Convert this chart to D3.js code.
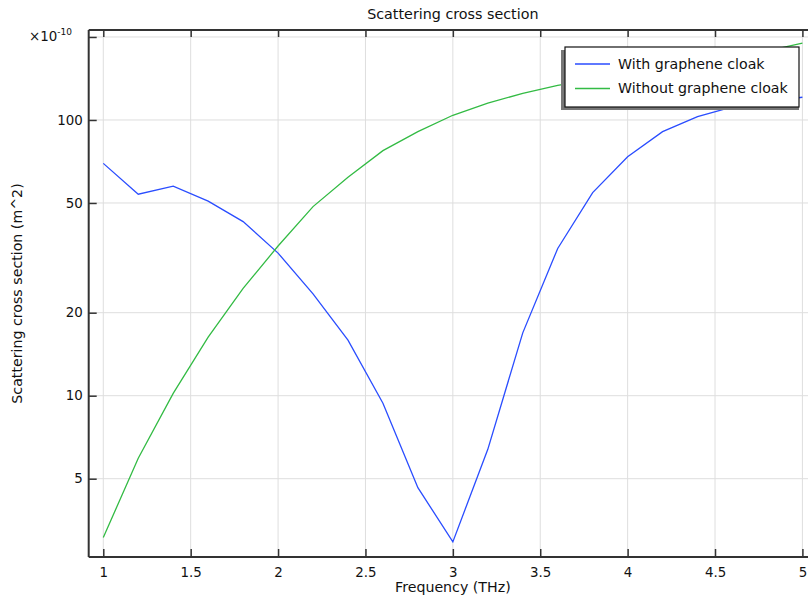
<!DOCTYPE html>
<html>
<head>
<meta charset="utf-8">
<script src="https://cdn.jsdelivr.net/npm/d3@7"></script>
<style>
  html, body { margin: 0; padding: 0; background: #fff; }
  svg { display: block; font-family: "DejaVu Sans", sans-serif; }
</style>
</head>
<body>
<svg id="chart" width="808" height="598"></svg>
<script>
// ---- data ----
const frequency = [1.0, 1.2, 1.4, 1.6, 1.8, 2.0, 2.2, 2.4, 2.6, 2.8, 3.0, 3.2, 3.4, 3.6, 3.8, 4.0, 4.2, 4.4, 4.6, 4.8, 5.0];
const withCloak = [69.6, 53.8, 57.5, 50.8, 42.8, 32.9, 23.4, 15.9, 9.39, 4.64, 2.95, 6.39, 16.9, 34.2, 54.5, 73.6, 90.7, 102.8, 111.5, 116.6, 120.9];
const withoutCloak = [3.06, 5.93, 10.2, 16.3, 24.5, 34.9, 48.5, 62.0, 77.4, 90.7, 104, 115, 125, 133.5, 140, 147, 154, 162, 170, 178, 190];
const seriesNames = ["With graphene cloak", "Without graphene cloak"];
const xTicks = [1, 1.5, 2, 2.5, 3, 3.5, 4, 4.5, 5];
const yTicks = [5, 10, 20, 50, 100, 200];
const yTickLabels = ["5", "10", "20", "50", "100", ""];

const colors = ["#2a4dff", "#33bb44"];

(function () {
const svg = d3.select("#chart");
const pL = 88.7, pR = 817, pT = 30, pB = 557;
const tickFont = 13.4, labelFont = 14.2;

const x = d3.scaleLinear().domain([0.9165, 5.0835]).range([pL, pR]);
const y = d3.scaleLog().domain([2.6, 212]).range([pB, pT]);

// grid
const grid = svg.append("g");
grid.selectAll("line.vx").data(xTicks).enter().append("line")
  .attr("x1", d => x(d)).attr("x2", d => x(d)).attr("y1", pT).attr("y2", pB)
  .attr("stroke", "#dedede").attr("stroke-width", 1);
grid.selectAll("line.hy").data(yTicks).enter().append("line")
  .attr("x1", pL).attr("x2", pR).attr("y1", d => y(d)).attr("y2", d => y(d))
  .attr("stroke", "#dedede").attr("stroke-width", 1);

// clip
svg.append("clipPath").attr("id", "clip").append("rect")
  .attr("x", pL).attr("y", pT).attr("width", pR - pL).attr("height", pB - pT);

const line = d3.line().x(d => x(d[0])).y(d => y(d[1]));
const series = [withCloak, withoutCloak];
const lines = svg.append("g").attr("clip-path", "url(#clip)");
series.forEach((s, i) => {
  lines.append("path")
    .datum(frequency.map((f, j) => [f, s[j]]))
    .attr("d", line)
    .attr("fill", "none")
    .attr("stroke", colors[i])
    .attr("stroke-width", 1.3);
});

// axes (inward ticks)
const axisColor = "#333";
const xAxisB = d3.axisBottom(x).tickValues(xTicks).tickSize(-8).tickPadding(10).tickFormat(d3.format("~g"));
const gxb = svg.append("g").attr("transform", `translate(0,${pB})`).call(xAxisB);
const xAxisT = d3.axisTop(x).tickValues(xTicks).tickSize(-7).tickFormat("");
const gxt = svg.append("g").attr("transform", `translate(0,${pT})`).call(xAxisT);
const yAxisL = d3.axisLeft(y).tickValues(yTicks).tickSize(-8).tickPadding(6)
  .tickFormat((d, i) => yTickLabels[i]);
const gyl = svg.append("g").attr("transform", `translate(${pL},0)`).call(yAxisL);
[gxb, gxt, gyl].forEach(g => {
  g.attr("font-family", "DejaVu Sans, sans-serif");
  g.select(".domain").attr("stroke", axisColor).attr("stroke-width", 2);
  g.selectAll(".tick line").attr("stroke", axisColor).attr("stroke-width", 1.5);
  g.selectAll(".tick text").attr("fill", "#111").attr("font-size", tickFont);
});
gxb.select(".domain").attr("d", `M${pL},0H${pR}`);
gxt.select(".domain").attr("d", `M${pL},0H${pR}`);
gyl.select(".domain").attr("d", `M0,${pT}V${pB}`);

// exponent label
const exp = svg.append("text").attr("x", 29).attr("y", 41).attr("font-size", tickFont).attr("fill", "#111");
exp.append("tspan").text("×10");
exp.append("tspan").attr("font-size", 9).attr("dy", -6).text("-10");

// title and labels
svg.append("text").attr("x", (pL + pR) / 2).attr("y", 19).attr("text-anchor", "middle")
  .attr("font-size", 14.3).attr("fill", "#111").text("Scattering cross section");
svg.append("text").attr("x", (pL + pR) / 2).attr("y", 592).attr("text-anchor", "middle")
  .attr("font-size", labelFont).attr("fill", "#111").text("Frequency (THz)");
svg.append("text").attr("transform", `translate(22,${(pT + pB) / 2}) rotate(-90)`)
  .attr("text-anchor", "middle").attr("font-size", labelFont).attr("fill", "#111")
  .text("Scattering cross section (m^2)");

// legend
const lg = svg.append("g");
lg.append("rect").attr("x", 561).attr("y", 50).attr("width", 238).attr("height", 60).attr("fill", "#777");
lg.append("rect").attr("x", 565).attr("y", 47).attr("width", 234).attr("height", 60)
  .attr("fill", "#fff").attr("stroke", "#111").attr("stroke-width", 1.2);
seriesNames.forEach((name, i) => {
  const yy = 64 + i * 24.5;
  lg.append("line").attr("x1", 575).attr("x2", 610).attr("y1", yy).attr("y2", yy)
    .attr("stroke", colors[i]).attr("stroke-width", 1.3);
  lg.append("text").attr("x", 618).attr("y", yy).attr("dy", "0.35em")
    .attr("font-size", labelFont).attr("fill", "#111").text(name);
});
})();
</script>
</body>
</html>
